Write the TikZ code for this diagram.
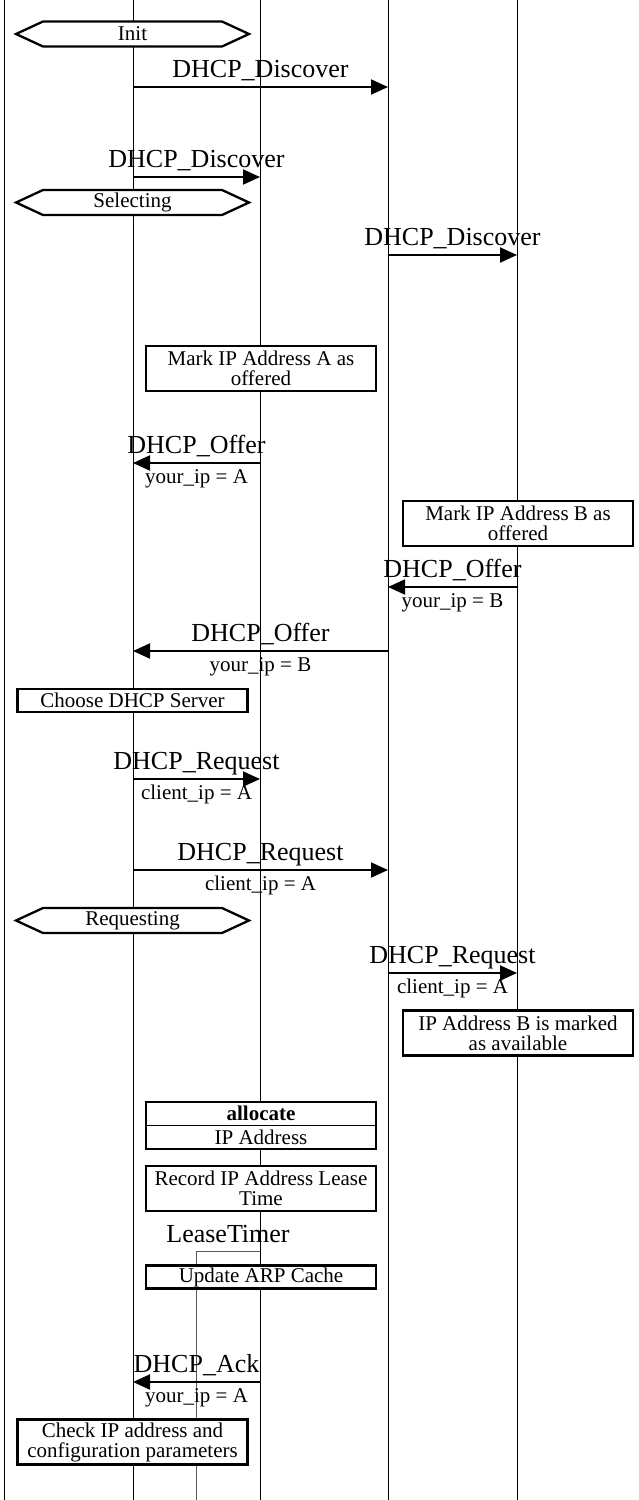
\documentclass[tikz,border=0pt]{standalone}
\usepackage{fontspec}
\setmainfont{Liberation Serif}
\usetikzlibrary{arrows.meta}
\begin{document}
\begin{tikzpicture}[x=1pt, y=-1pt,
    life/.style={line width=0.8pt},
    timer/.style={line width=1pt, black!65},
    msg/.style={line width=2pt, -{Triangle[length=17pt, width=15pt]}},
    lbl/.style={font=\fontsize{26pt}{28pt}\selectfont, inner sep=0pt},
    txt/.style={font=\fontsize{21pt}{20pt}\selectfont, inner sep=0pt},
    msgtop/.style={lbl, anchor=base, yshift=9.5pt},
    msgbot/.style={txt, anchor=base, yshift=-20pt},
    box/.style={txt, draw, line width=2.4pt, fill=white, align=center,
      minimum width=230pt, minimum height=45pt},
    hex/.style={line width=2.3pt, fill=white}]
      \useasboundingbox (0,0) rectangle (638,1500);
      %
      \foreach \n/\x in {edge/4, cli/133, srvA/260, rly/388, srvB/517} { % lifelines
        \coordinate (\n) at (\x,0);
        \coordinate (\n-end) at (\x,1500);
        \draw[life] (\n) -- (\n-end);
      }
      %
      \coordinate (lt) at (196,1251);          % lease timer
      \coordinate (lt-end) at (196,1500);
      \draw[timer] (srvA |- lt) -- (lt) -- (lt-end);
      \node[lbl, anchor=base] (ltt) at (228,1242) {LeaseTimer};
      %
      \foreach \n/\y/\t in {init/34/Init, sel/202.5/Selecting, req/920.5/Requesting} { % states
        \coordinate (\n) at (132.5,\y);
        \filldraw[hex] ([xshift=-116.5pt]\n) -- ++(27,-12.5) -- ++(179,0) -- ++(27,12.5)
          -- ++(-27,12.5) -- ++(-179,0) -- cycle;
        \node[txt] (\n-t) at (\n) {\t};
      }
      %
      \coordinate (m1) at (0,87);              % discover
      \draw[msg] (cli |- m1) -- node[msgtop] (m1t) {DHCP\_Discover} (rly |- m1);
      \coordinate (m2) at (0,177);
      \draw[msg] (cli |- m2) -- node[msgtop] (m2t) {DHCP\_Discover} (srvA |- m2);
      \coordinate (m3) at (0,255);
      \draw[msg] (rly |- m3) -- node[msgtop] (m3t) {DHCP\_Discover} (srvB |- m3);
      %
      \node[box] (markA) at (261,368.5) {Mark IP Address A as\\offered};
      \node[box] (markB) at (518,523.5) {Mark IP Address B as\\offered};
      %
      \coordinate (m4) at (0,463);             % offer
      \draw[msg] (srvA |- m4) -- node[msgtop] (m4t) {DHCP\_Offer}
        node[msgbot] (m4s) {your\_ip = A} (cli |- m4);
      \coordinate (m5) at (0,587);
      \draw[msg] (srvB |- m5) -- node[msgtop] (m5t) {DHCP\_Offer}
        node[msgbot] (m5s) {your\_ip = B} (rly |- m5);
      \coordinate (m6) at (0,651);
      \draw[msg] (rly |- m6) -- node[msgtop] (m6t) {DHCP\_Offer}
        node[msgbot] (m6s) {your\_ip = B} (cli |- m6);
      %
      \node[box, minimum height=23pt] (choose) at (132.5,700.5) {Choose DHCP Server};
      %
      \coordinate (m7) at (0,779);             % request
      \draw[msg] (cli |- m7) -- node[msgtop] (m7t) {DHCP\_Request}
        node[msgbot] (m7s) {client\_ip = A} (srvA |- m7);
      \coordinate (m8) at (0,870);
      \draw[msg] (cli |- m8) -- node[msgtop] (m8t) {DHCP\_Request}
        node[msgbot] (m8s) {client\_ip = A} (rly |- m8);
      \coordinate (m9) at (0,973);
      \draw[msg] (rly |- m9) -- node[msgtop] (m9t) {DHCP\_Request}
        node[msgbot] (m9s) {client\_ip = A} (srvB |- m9);
      %
      \node[box] (freeB) at (518,1033) {IP Address B is marked\\as available};
      %
      \node[box, minimum height=47pt] (alloc) at (261,1125.5) {}; % server A
      \draw[line width=1pt] (alloc.west) -- (alloc.east);
      \node[txt] (allocT) at (261,1113) {\textbf{allocate}};
      \node[txt] (allocB) at (261,1137.5) {IP Address};
      \node[box] (lease) at (261,1188.5) {Record IP Address Lease\\Time};
      \node[box, minimum height=23pt] (arp) at (261,1277) {Update ARP Cache};
      %
      \coordinate (m10) at (0,1382);           % ack
      \draw[msg] (srvA |- m10) -- node[msgtop] (m10t) {DHCP\_Ack}
        node[msgbot] (m10s) {your\_ip = A} (cli |- m10);
      %
      \node[box] (check) at (132.5,1442) {Check IP address and\\configuration parameters};
      %
    \end{tikzpicture}
\end{document}
